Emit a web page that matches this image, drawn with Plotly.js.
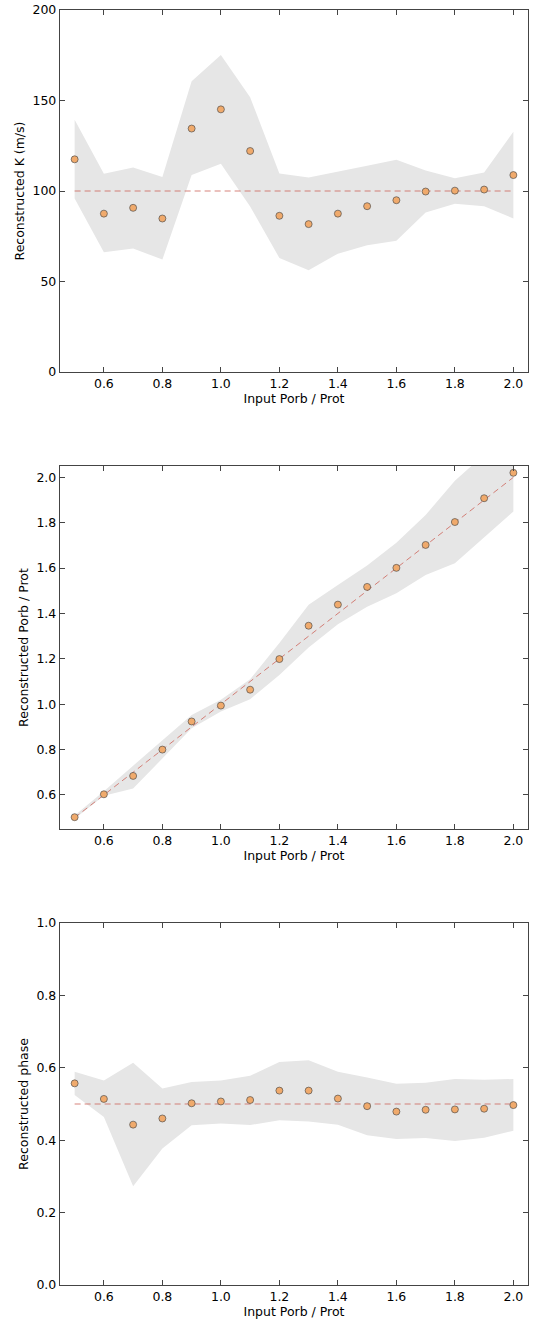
<!DOCTYPE html>
<html><head><meta charset="utf-8">
<script src="https://cdn.plot.ly/plotly-3.0.1.min.js"></script>
<style>html,body{margin:0;padding:0;background:#fff}#chart{width:539px;height:1325px}</style>
</head><body><div id="chart"></div>
<script>
const inputRatio = [0.5,0.6,0.7,0.8,0.9,1.0,1.1,1.2,1.3,1.4,1.5,1.6,1.7,1.8,1.9,2.0];

// Panel 1: reconstructed K (m/s)
const trueK = 100;
const kMedian = [117.5,87.5,90.7,84.8,134.5,145.1,122.1,86.3,81.7,87.5,91.6,94.9,99.7,100.2,100.8,108.8];
const kUpper  = [139.4,109.5,113.0,107.8,160.6,175.2,151.8,109.7,107.5,110.6,113.9,117.3,111.3,107.1,110.2,132.7];
const kLower  = [95.8,66.1,68.3,62.1,108.8,115.0,91.5,63.0,56.2,65.4,70.0,72.5,88.1,93.0,91.6,84.8];

// Panel 2: reconstructed Porb / Prot
const pMedian = [0.502,0.603,0.684,0.800,0.924,0.994,1.064,1.199,1.346,1.439,1.517,1.601,1.702,1.803,1.908,2.020];
const pUpper  = [0.510,0.616,0.729,0.843,0.953,1.020,1.110,1.270,1.438,1.526,1.611,1.712,1.834,1.985,2.100,2.200];
const pLower  = [0.495,0.597,0.628,0.763,0.894,0.968,1.022,1.129,1.250,1.353,1.430,1.489,1.570,1.621,1.736,1.849];

// Panel 3: reconstructed phase
const truePhase = 0.5;
const phMedian = [0.557,0.514,0.443,0.460,0.502,0.507,0.511,0.537,0.537,0.515,0.494,0.479,0.484,0.485,0.487,0.497];
const phUpper  = [0.589,0.565,0.614,0.543,0.561,0.565,0.578,0.616,0.621,0.589,0.573,0.556,0.559,0.569,0.567,0.569];
const phLower  = [0.525,0.464,0.273,0.377,0.441,0.446,0.442,0.455,0.452,0.443,0.414,0.403,0.406,0.398,0.407,0.426];

const bandColor = '#e6e6e6';
const markerStyle = {size: 7, color: 'rgb(240,170,108)', line: {color: 'rgba(70,70,70,0.8)', width: 0.8}};
const dashLine = {color: 'rgba(205,100,90,0.8)', width: 1, dash: '6px,4px'};

function panel(idx, lower, upper, median, ref) {
  const xa = idx === 1 ? 'x' : 'x' + idx;
  const ya = idx === 1 ? 'y' : 'y' + idx;
  return [
    {x: inputRatio, y: lower, xaxis: xa, yaxis: ya, type: 'scatter', mode: 'lines',
     line: {width: 0, color: bandColor}, hoverinfo: 'skip', showlegend: false},
    {x: inputRatio, y: upper, xaxis: xa, yaxis: ya, type: 'scatter', mode: 'lines',
     line: {width: 0, color: bandColor}, fill: 'tonexty', fillcolor: bandColor, hoverinfo: 'skip', showlegend: false},
    {x: inputRatio, y: ref, xaxis: xa, yaxis: ya, type: 'scatter', mode: 'lines',
     line: dashLine, showlegend: false},
    {x: inputRatio, y: median, xaxis: xa, yaxis: ya, type: 'scatter', mode: 'markers',
     marker: markerStyle, showlegend: false}
  ];
}

const refK = inputRatio.map(() => trueK);
const refP = inputRatio.slice();
const refPh = inputRatio.map(() => truePhase);

const data = [].concat(
  panel(1, kLower, kUpper, kMedian, refK),
  panel(2, pLower, pUpper, pMedian, refP),
  panel(3, phLower, phUpper, phMedian, refPh)
);

const font = {family: 'DejaVu Sans, sans-serif', size: 12.5, color: '#000'};
const axisColor = '#444';
function xaxis(anchor, dom) {
  return {domain: dom, anchor: anchor, range: [0.45, 2.05], tickvals: [0.6,0.8,1.0,1.2,1.4,1.6,1.8,2.0],
    tickformat: '.1f', ticks: 'inside', ticklen: 5, tickcolor: axisColor, tickwidth: 1,
    showline: true, linecolor: axisColor, linewidth: 1.2, mirror: 'ticks', showgrid: false, zeroline: false,
    tickfont: font, automargin: false,
    title: {text: 'Input Porb / Prot', font: font, standoff: 4}};
}
function yaxis(anchor, dom, range, tickvals, fmt, title) {
  return {domain: dom, anchor: anchor, range: range, tickvals: tickvals, tickformat: fmt,
    ticks: 'inside', ticklen: 5, tickcolor: axisColor, tickwidth: 1,
    showline: true, linecolor: axisColor, linewidth: 1.2, mirror: 'ticks', showgrid: false, zeroline: false,
    tickfont: font, automargin: false,
    title: {text: title, font: font, standoff: 5}};
}
const xd = [60/539, 528/539];
const layout = {
  width: 539, height: 1325,
  margin: {l: 0, r: 0, t: 0, b: 0},
  paper_bgcolor: '#fff', plot_bgcolor: '#fff',
  showlegend: false,
  xaxis: xaxis('y', xd),
  yaxis: yaxis('x', [1-372/1325, 1-10/1325], [0, 200], [0,50,100,150,200], 'd', 'Reconstructed K (m/s)'),
  xaxis2: xaxis('y2', xd),
  yaxis2: yaxis('x2', [1-829/1325, 1-466/1325], [0.45, 2.05], [0.6,0.8,1.0,1.2,1.4,1.6,1.8,2.0], '.1f', 'Reconstructed Porb / Prot'),
  xaxis3: xaxis('y3', xd),
  yaxis3: yaxis('x3', [1-1285/1325, 1-923/1325], [0, 1], [0,0.2,0.4,0.6,0.8,1.0], '.1f', 'Reconstructed phase')
};
Plotly.newPlot('chart', data, layout, {displayModeBar: false, staticPlot: true});
</script></body></html>
